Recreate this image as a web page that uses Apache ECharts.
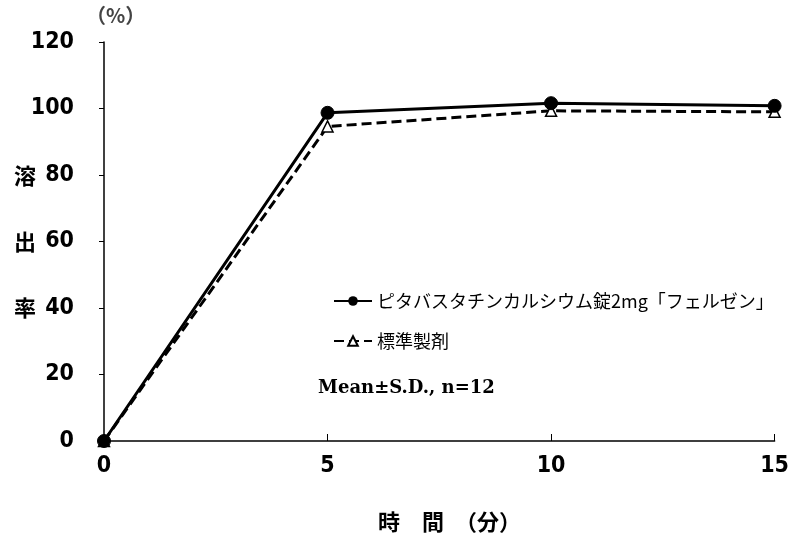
<!DOCTYPE html>
<html><head><meta charset="utf-8">
<script src="https://cdn.jsdelivr.net/npm/echarts@6/dist/echarts.min.js"></script>
<style>html,body{margin:0;padding:0;background:#fff}#c{width:792px;height:542px}</style>
</head><body><div id="c"></div>
<script>
const times = [0, 5, 10, 15];
const testName = 'ピタバスタチンカルシウム錠2mg「フェルゼン」';
const refName = '標準製剤';
const testValues = [0, 98.7, 101.6, 100.8];
const refValues = [0, 94.6, 99.3, 99.0];
const xTicks = [0, 5, 10, 15];
const yTicks = [0, 20, 40, 60, 80, 100, 120];
const yTitle = '溶\n出\n率';
const yUnit = '（%）';
const xTitle = '時　間　（分）';
const note = 'Mean±S.D., n=12';

const jp = '"Noto Sans CJK JP", sans-serif';
const num = '"Liberation Sans Narrow", "DejaVu Sans Condensed", "Liberation Sans", sans-serif';
const chart = echarts.init(document.getElementById('c'), null, {renderer: 'canvas'});
chart.setOption({
  animation: false,
  backgroundColor: '#fff',
  grid: {left: 104, right: 16, top: 42, bottom: 101},
  xAxis: {
    type: 'value', min: xTicks[0], max: xTicks[xTicks.length - 1], interval: 5,
    axisLine: {lineStyle: {color: '#000', width: 1.5}},
    axisTick: {inside: true, length: 7, lineStyle: {color: '#000', width: 1}},
    splitLine: {show: false},
    axisLabel: {color: '#000', fontSize: 23, fontWeight: 'bold', fontFamily: num, margin: 14}
  },
  yAxis: {
    type: 'value', min: yTicks[0], max: yTicks[yTicks.length - 1], interval: 20,
    name: yTitle, nameLocation: 'middle', nameRotate: 0, nameGap: 68, nameMoveOverlap: false,
    nameTextStyle: {color: '#000', fontSize: 22, fontWeight: 'bold', fontFamily: jp, lineHeight: 66},
    axisLine: {show: true, lineStyle: {color: '#000', width: 1.5}},
    axisTick: {show: true, inside: false, length: 5, lineStyle: {color: '#000', width: 1}},
    splitLine: {show: false},
    axisLabel: {color: '#000', fontSize: 23, fontWeight: 'bold', fontFamily: num, margin: 30}
  },
  legend: {
    orient: 'vertical', left: 328, top: 287, itemGap: 22, itemWidth: 38, itemHeight: 12,
    textStyle: {color: '#000', fontSize: 18, fontFamily: jp},
    data: [testName, refName]
  },
  graphic: [
    {type: 'text', left: 86, top: 5, style: {text: yUnit, fill: '#444', font: 'bold 20px "Noto Sans CJK JP", sans-serif'}},
    {type: 'text', left: 378, top: 511, style: {text: xTitle, fill: '#000', font: 'bold 22px "Noto Sans CJK JP", sans-serif'}},
    {type: 'text', left: 318, top: 379, style: {text: note, fill: '#000', font: 'bold 18px "DejaVu Serif", serif'}}
  ],
  series: [
    {
      name: refName, type: 'line', z: 2,
      data: times.map((t, i) => [t, refValues[i]]),
      symbol: 'triangle', symbolSize: 11,
      lineStyle: {color: '#000', width: 3, type: [10, 5]},
      itemStyle: {color: '#fff', borderColor: '#000', borderWidth: 1.5}
    },
    {
      name: testName, type: 'line', z: 3,
      data: times.map((t, i) => [t, testValues[i]]),
      symbol: 'circle', symbolSize: 13,
      lineStyle: {color: '#000', width: 3},
      itemStyle: {color: '#000', borderColor: '#000'}
    }
  ]
});
</script></body></html>
